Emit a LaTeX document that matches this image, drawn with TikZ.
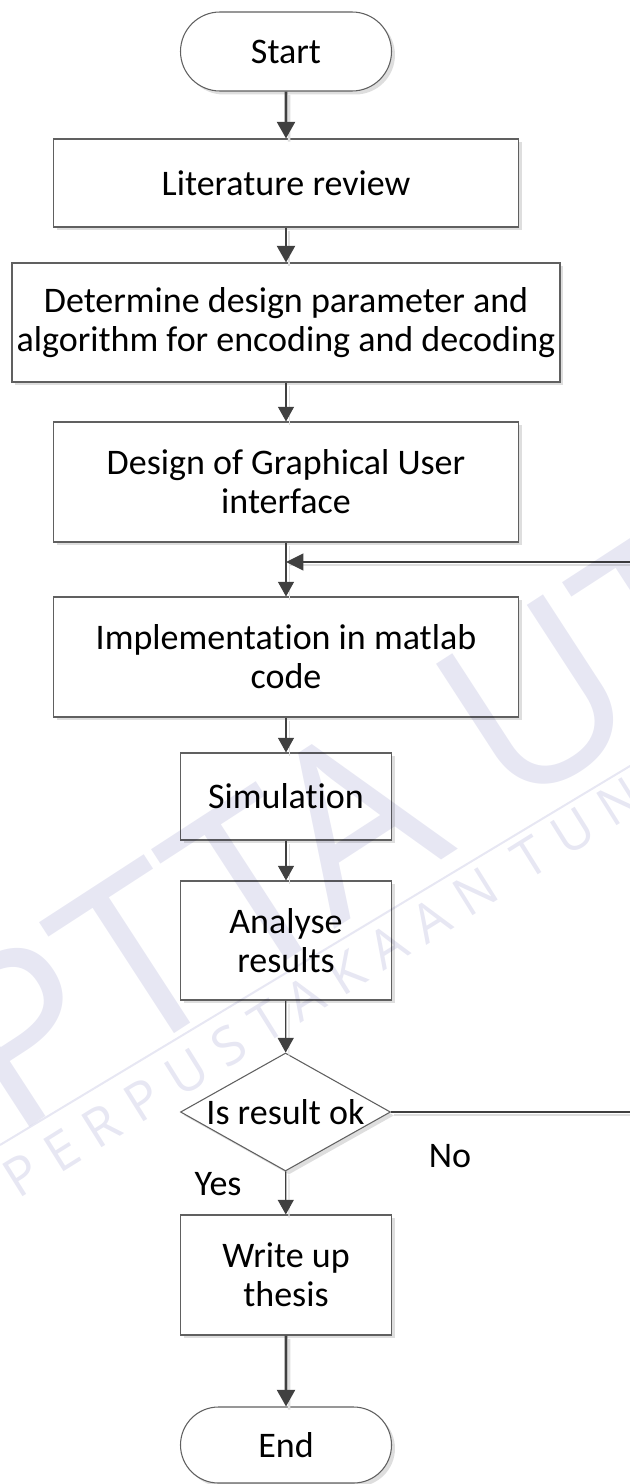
\documentclass[tikz,border=0pt]{standalone}
\usepackage{fontspec}
\setmainfont{Carlito}[RawFeature={-liga;-clig;-dlig}]
\newfontfamily\wmfont{Open Sans}
\usetikzlibrary{arrows.meta,shapes.misc,shapes.geometric,shadows}

\definecolor{edge}{RGB}{96,96,96}
\definecolor{ink}{RGB}{64,64,64}
\definecolor{ghostgray}{RGB}{222,222,222}
\definecolor{wm}{RGB}{231,231,243}

\tikzset{
  every node/.style={font=\fontsize{27}{29.25}\selectfont, align=center, text=black},
  boxshadow/.style={drop shadow={shadow xshift=2.6pt, shadow yshift=-2.6pt, fill=black!13, opacity=1}},
  stepbox/.style={rectangle, draw=edge, line width=0.8pt, fill=white, inner sep=0pt, boxshadow},
  terminal/.style={rounded rectangle, draw=edge, line width=0.8pt, fill=white, inner sep=0pt,
    minimum width=158.25pt, minimum height=59.25pt, boxshadow},
  decide/.style={diamond, draw=edge, line width=0.8pt, fill=white,
    inner xsep=-40pt, inner ysep=-12pt,
    minimum width=157.5pt, minimum height=88.5pt, boxshadow},
  flowthin/.style={draw=ink, line width=0.9pt, -{Triangle[length=11pt,width=12pt]}},
  flowthick/.style={draw=ink, line width=1.9pt, -{Triangle[length=12.5pt,width=13.5pt]}},
  ghost/.style={draw=ghostgray, transform canvas={xshift=2.4pt,yshift=-2.4pt}},
  wmbig/.style={font=\wmfont\fontsize{175}{175}\selectfont, text=wm, inner sep=0pt},
  wmsmall/.style={font=\wmfont\fontsize{40}{40}\selectfont\addfontfeature{LetterSpace=30}, text=wm, inner sep=0pt},
}

\begin{document}
\begin{tikzpicture}[x=0.75pt,y=-0.75pt]
\useasboundingbox (0,0) rectangle (630,1484);

% process steps
\node[terminal] (start) at (286,51.5) {Start};
\node[stepbox, minimum width=348.75pt, minimum height=66pt] (lit) at (286,183) {Literature review};
\node[stepbox, minimum width=411pt, minimum height=89.25pt] (det) at (286,322.5)
  {Determine design parameter and\\algorithm for encoding and decoding};
\node[stepbox, minimum width=348.75pt, minimum height=90pt] (gui) at (286,482)
  {Design of Graphical User\\interface};
\node[stepbox, minimum width=348.75pt, minimum height=90pt] (impl) at (286,657)
  {Implementation in matlab\\code};
\node[stepbox, minimum width=158.25pt, minimum height=65.25pt] (sim) at (286,796.5) {Simulation};
\node[stepbox, minimum width=158.25pt, minimum height=89.25pt] (ana) at (286,940.5) {Analyse\\results};
\node[decide] (dec) at (285.5,1112) {Is result ok};
\node[stepbox, minimum width=158.25pt, minimum height=90pt] (write) at (286,1275) {Write up\\thesis};
\node[terminal, minimum height=57pt] (end) at (286,1445) {End};

\node (yes) at (218,1184) {Yes};
\node (no) at (450,1156) {No};

% loop-back route
\coordinate (join) at (286,562);
\coordinate (rt) at (660,1112);
\coordinate (rb) at (660,562);

% connector shadows
\draw[ghost, line width=1.9pt] (start) -- (lit);
\draw[ghost, line width=1.9pt] (lit) -- (det);
\draw[ghost, line width=0.9pt] (det) -- (gui);
\draw[ghost, line width=0.9pt] (gui) -- (impl);
\draw[ghost, line width=0.9pt] (impl) -- (sim);
\draw[ghost, line width=0.9pt] (sim) -- (ana);
\draw[ghost, line width=0.9pt] (ana) -- (dec);
\draw[ghost, line width=0.9pt] (dec) -- (write);
\draw[ghost, line width=1.9pt] (write) -- (end);
\draw[ghost, line width=1.6pt] (dec.east) -- (rt) -- (rb) -- (join);

% connectors
\draw[flowthick] (start) -- (lit);
\draw[flowthick] (lit) -- (det);
\draw[flowthin] (det) -- (gui);
\draw[flowthin] (gui) -- (impl);
\draw[flowthin] (impl) -- (sim);
\draw[flowthin] (sim) -- (ana);
\draw[flowthin] (ana) -- (dec);
\draw[flowthin] (dec) -- (write);
\draw[flowthick] (write) -- (end);
\draw[draw=ink, line width=1.6pt, -{Triangle[length=13pt,width=12.5pt]}]
  (dec.east) -- (rt) -- (rb) -- (join);

% library watermark
\begin{scope}[blend mode=multiply]
  \node[wmbig, rotate=33, anchor=base west] (wmlogo) at (10,1140) {PTTA UTHM};
  \node[wmsmall, rotate=32, anchor=base west] (wmname) at (18,1200) {PERPUSTAKAAN TUNKU TUN AMINAH};
  \coordinate (wla) at (0,1145);
  \coordinate (wlb) at (640,760);
  \draw[wm, line width=1.5pt] (wla) -- (wlb);
\end{scope}
\end{tikzpicture}
\end{document}
